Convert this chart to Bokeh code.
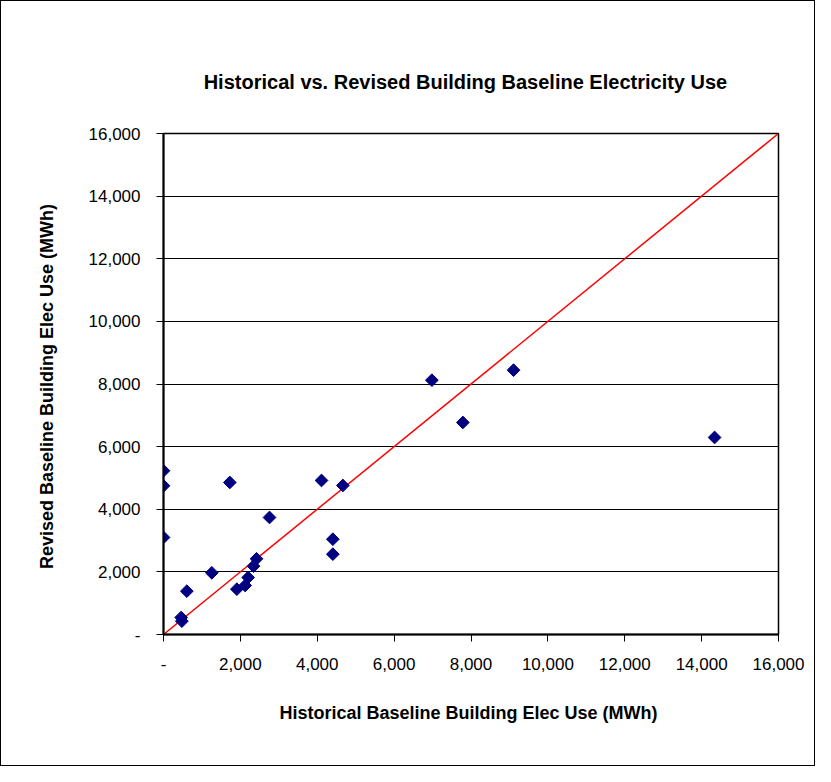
import math
from bokeh.plotting import figure
from bokeh.models import ColumnDataSource, FixedTicker, NumeralTickFormatter, Range1d, Title
from bokeh.embed import file_html
from bokeh.resources import INLINE

# Data
historical = [0, 0, 0, 1725, 4111, 4666, 2758, 4406, 4406, 2420, 2342, 2203,
              2125, 1908, 1257, 607, 460, 477, 6982, 9107, 7788, 14337]
revised = [5230, 4750, 3100, 4855, 4919, 4759, 3737, 3044, 2565, 2418, 2182, 1821,
           1565, 1448, 1970, 1384, 543, 425, 8122, 8442, 6771, 6292]
ref_line_x = [0, 16000]
ref_line_y = [0, 16000]
tick_values = [0, 2000, 4000, 6000, 8000, 10000, 12000, 14000, 16000]
zero_label = "-"

title_text = "Historical vs. Revised  Building Baseline Electricity  Use"
x_label = "Historical Baseline Building  Elec Use (MWh)"
y_label = "Revised Baseline Building  Elec Use (MWh)"

FONT = "Liberation Sans"

p = figure(width=815, height=766, output_backend="svg", toolbar_location=None,
           x_range=Range1d(0, 16000), y_range=Range1d(0, 16000),
           min_border_left=162, min_border_right=38, min_border_top=132,
           min_border_bottom=133, title=None)
p.styles = {"border": "1px solid black", "box-sizing": "border-box"}

t = Title(text=title_text, align="center", text_font=FONT, text_font_size="20px",
          text_font_style="bold", text_color="black", standoff=81)
p.add_layout(t, "above")

p.background_fill_color = "white"
p.border_fill_color = "white"
p.outline_line_color = "black"
p.outline_line_width = 1.5

p.xgrid.grid_line_color = None
p.ygrid.grid_line_color = "black"
p.ygrid.grid_line_width = 1.2

for ax in (p.xaxis, p.yaxis):
    ax.ticker = FixedTicker(ticks=tick_values)
    ax.formatter = NumeralTickFormatter(format="0,0")
    ax.major_label_overrides = {0: zero_label}
    ax.axis_line_color = "black"
    ax.axis_line_width = 2
    ax.major_tick_line_color = "black"
    ax.major_tick_line_width = 1
    ax.major_tick_in = 0
    ax.major_tick_out = 7
    ax.minor_tick_line_color = None
    ax.major_label_text_font = FONT
    ax.major_label_text_font_size = "17px"
    ax.major_label_text_color = "black"
    ax.axis_label_text_font = FONT
    ax.axis_label_text_font_size = "18px"
    ax.axis_label_text_font_style = "bold"
    ax.axis_label_text_color = "black"

p.xaxis.axis_label = x_label
p.yaxis.axis_label = y_label
p.xaxis.major_label_standoff = 16
p.yaxis.major_label_standoff = 16
p.xaxis.axis_label_standoff = 30
p.yaxis.axis_label_standoff = 29

src = ColumnDataSource(data=dict(x=historical, y=revised))
p.line(ref_line_x, ref_line_y, line_color="#FF0000", line_width=1.5)
p.scatter("x", "y", source=src, marker="square", angle=math.pi / 4, size=9,
          fill_color="#000080", line_color="#000080")

open("out.html", "w").write(file_html(p, INLINE))
